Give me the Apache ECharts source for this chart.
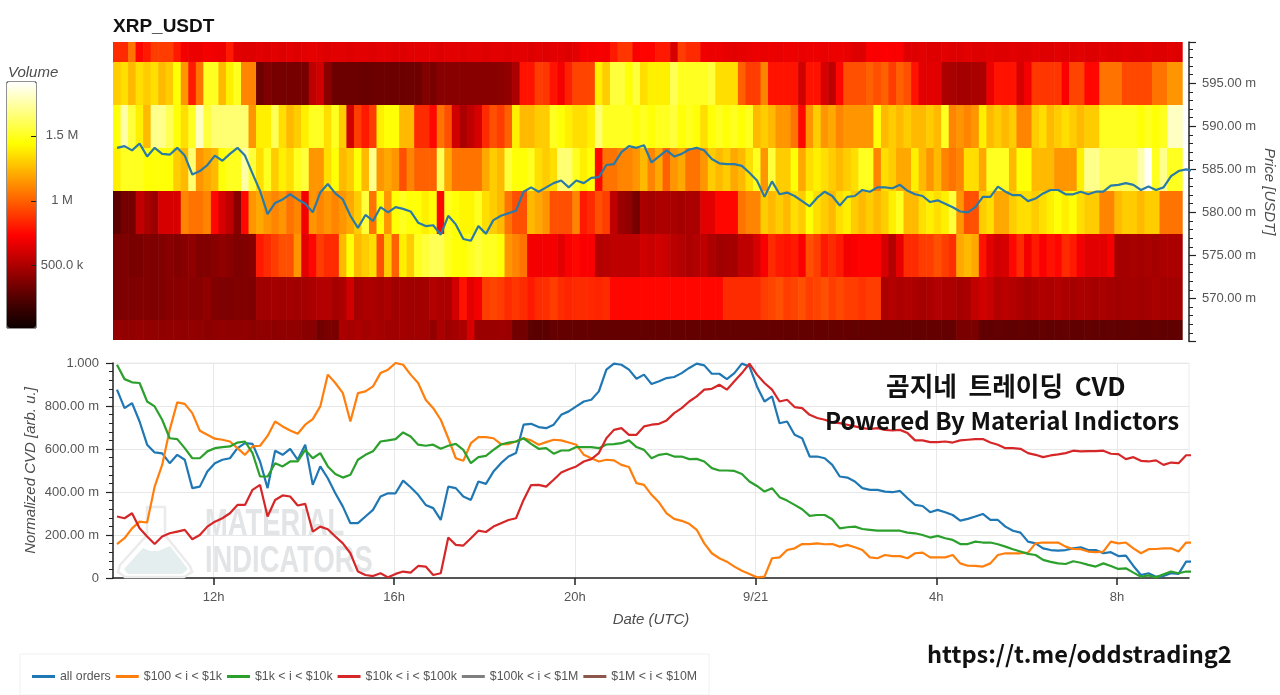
<!DOCTYPE html>
<html>
<head>
<meta charset="utf-8">
<style>html,body{margin:0;padding:0;background:#fff}#c{width:1280px;height:695px}</style>
<script src="https://cdn.jsdelivr.net/npm/echarts@6/dist/echarts.min.js"></script>
</head>
<body>
<div id="c"></div>
<script>
// Time in hours counted from 9/20 00:00; price in milli-USDT; volume in thousands; CVD in milli-units.
const timeTicks = [12, 16, 20, 24, 28, 32];
const timeLabels = ['12h', '16h', '20h', '9/21', '4h', '8h'];
const pricePrefixRows = [600, 595, 590, 585, 580, 575, 570, 565];
const volumeTicks = [500, 1000, 1500];

const vol600 = [850,850,1050,750,800,900,900,900,800,700,
680,680,700,690,680,800,650,640,640,650,
640,650,640,650,640,650,660,650,640,650,
650,640,650,650,640,650,650,640,640,650,
650,650,650,640,650,650,640,650,650,640,
650,650,640,650,650,640,650,640,650,650,
640,650,700,700,710,700,800,880,880,720,
740,740,800,800,620,900,850,850,690,680,
680,660,650,660,670,680,670,680,670,680,
680,670,680,680,670,680,680,670,640,640,
720,720,730,720,720,640,640,650,640,640,
650,640,640,650,640,640,650,640,640,650,
640,640,650,640,640,650,640,640,650,640,
640,650,640,640,650,640,640,650,640,640,
650,640];
const vol595 = [1300,1350,1250,1350,1300,1350,1250,1300,1450,1150,
800,1050,1500,1500,1250,1400,1500,1100,1100,330,
370,350,350,350,350,350,550,600,400,320,
320,320,320,310,320,320,320,320,320,330,
330,380,360,400,400,400,400,400,400,400,
400,410,430,500,780,780,900,880,780,700,
820,920,920,920,1400,1300,1550,1550,1450,1550,
1350,1400,1400,1400,1600,1500,1500,1500,1500,1550,
1350,1350,1350,1000,900,900,1100,780,780,780,
780,600,780,780,620,550,750,950,950,950,
1000,950,1000,900,1000,950,780,650,650,650,
500,490,480,480,490,500,680,780,780,780,
620,700,880,880,880,880,720,920,920,750,
750,1050,1050,1050,930,930,930,930,1050,1050,
1150,1150];
const vol590 = [1450,1750,1550,1400,1250,1700,1700,1600,1450,1350,
1500,1800,1550,1650,1650,1650,1650,1650,1150,1400,
1400,1600,1350,1250,1300,1400,1500,1500,1350,1500,
1300,600,900,800,900,1400,1450,1450,1250,1250,
850,850,750,1050,950,600,500,550,620,850,
950,900,1000,1400,1250,1250,1300,1300,1500,1450,
1400,1350,1350,1400,1650,1500,1500,1500,1500,1450,
1500,1450,1500,1500,1550,1450,1500,1450,1350,1450,
1500,1450,1500,1450,1500,1250,1300,1250,1150,1150,
1050,750,1150,1300,1150,1200,1100,1150,1150,1150,
1150,1450,1250,1300,1250,1300,1250,1250,1300,1250,
1500,1100,1150,1100,1150,1400,1250,1300,1250,1300,
1100,1100,1300,1350,1250,1300,1350,1300,1250,1300,
1300,1500,1500,1500,1500,1500,1450,1500,1450,1500,
1800,1800];
const vol585 = [1400,1500,1500,1500,1450,1450,1450,1450,1300,1250,
1650,1150,1200,1250,1450,1500,1500,1750,1550,1350,
1500,1300,1400,1350,1500,1550,1150,1150,1350,1450,
1250,1300,1450,1250,1700,1150,1200,1150,950,1100,
1000,1000,1000,1600,1200,1050,1050,1050,1050,1200,
1300,1250,1550,1450,1450,1500,1350,1300,1350,1650,
1650,1500,1400,1450,750,1050,1050,1100,1100,1150,
1250,1100,1200,1000,1150,1200,1050,1050,1150,1300,
1250,1300,1200,1250,1350,1500,1150,1550,1300,1300,
1450,1200,1350,1400,1350,1300,1250,1300,1350,1500,
1500,1100,1350,1300,1200,1200,1400,1250,1150,1250,
1100,1050,1100,1350,1350,1200,1500,1500,1500,1250,
1450,1450,1250,1250,1250,1150,1150,1150,1400,1700,
1700,1600,1600,1600,1600,1600,1750,1900,1500,1700,
1500,1500];
const vol580 = [280,350,350,550,500,450,620,620,620,1100,
1050,1050,1100,750,620,550,400,750,1150,1200,
1150,1100,1150,1050,1100,700,1150,1100,1150,1100,
1150,1200,1300,1550,1050,1450,1150,1450,1500,1450,
1450,1400,1450,750,1500,1450,1420,1420,1500,1350,
1300,1250,1050,950,950,1250,1200,1150,950,950,
950,1100,800,850,950,900,550,450,420,350,
500,480,500,500,490,480,500,490,650,650,
750,750,750,1050,1100,1100,1300,1250,1300,1250,
1350,1300,1450,1350,1300,1250,1350,1400,1300,1250,
1300,1250,1300,1400,1500,1250,1250,1350,1400,1350,
1400,1550,1150,950,950,1300,1350,1200,1200,1300,
1350,1350,1300,1350,1400,1450,1400,1450,1350,1300,
1300,1100,1100,1250,1300,1300,1250,1300,1300,1050,
1050,1050];
const vol575 = [360,370,360,360,380,370,380,400,380,400,
420,380,380,400,420,400,370,380,400,800,
850,900,950,950,1150,650,750,900,850,850,
1250,1450,1250,1300,1350,950,1300,1000,1400,1300,
1500,1550,1600,1600,1500,1450,1450,1500,1550,1500,
1500,1450,1150,1100,1050,700,700,700,700,650,
720,750,720,720,520,530,550,550,550,550,
600,580,600,580,540,520,500,520,550,500,
470,480,480,550,550,620,720,850,800,780,
800,720,950,900,800,850,800,700,720,740,
740,740,620,520,660,850,850,900,900,950,
900,860,1200,1250,1200,780,650,600,620,750,
850,700,800,720,780,750,850,800,700,650,
650,650,700,480,480,490,480,490,480,500,
500,500];
const vol570 = [360,370,370,380,380,370,380,400,400,410,
400,400,420,380,370,370,380,380,370,470,
470,480,470,480,470,480,500,520,520,480,
500,600,480,500,500,480,500,470,480,470,
470,480,520,500,500,600,780,650,700,900,
920,900,850,880,850,800,850,860,900,850,
830,850,850,840,830,850,750,750,750,750,
750,750,750,750,750,750,750,750,750,750,
750,850,850,850,850,850,900,920,950,900,
920,950,900,920,950,900,930,900,900,870,
900,900,500,520,500,510,500,480,500,520,
500,500,480,500,560,600,580,520,540,520,
500,480,500,510,500,520,500,480,500,490,
480,490,480,470,480,480,470,480,490,480,
480,480];
const vol565 = [440,430,430,440,430,430,420,430,430,420,
430,420,410,420,430,420,420,430,410,420,
420,410,420,420,420,400,400,340,360,360,
500,480,500,480,490,480,470,470,480,470,
470,470,430,500,460,480,500,620,450,450,
450,460,450,340,340,280,270,270,300,300,
300,295,300,300,300,295,300,300,305,300,
300,295,300,300,295,300,300,295,300,300,
295,300,300,295,300,300,295,300,300,295,
300,300,295,300,300,295,300,300,295,300,
300,295,300,300,295,300,300,295,300,300,
295,300,360,360,360,290,290,295,290,290,
295,290,290,295,290,290,295,290,290,295,
290,290,295,290,290,295,290,290,295,290,
290,290];

const priceLine = [587.5,587.7,587.2,588.0,586.5,587.5,586.8,586.7,587.5,586.6,
584.4,584.8,585.5,586.6,586.0,586.8,587.5,586.6,584.5,582.5,
579.8,581.1,581.5,582.1,581.5,581.0,580.0,582.3,583.3,582.2,
581.5,579.6,578.2,579.7,579.0,580.6,580.0,580.6,580.4,580.1,
578.8,578.4,578.5,577.4,579.6,578.6,576.9,576.7,578.4,577.5,
579.1,579.6,579.9,580.2,582.4,582.9,582.4,582.9,583.4,583.7,
582.9,583.7,583.4,584.0,584.1,585.5,585.6,587.0,587.7,587.5,
587.8,585.8,586.5,587.2,586.5,586.8,587.3,587.5,587.2,586.2,
585.7,585.6,585.6,585.4,584.6,583.7,581.8,583.6,582.1,582.3,
581.9,581.3,580.7,581.7,582.4,581.9,580.8,581.8,581.9,582.6,
582.4,582.9,582.9,582.8,583.2,582.5,582.1,581.9,581.2,581.4,
581.0,580.6,580.1,580.0,580.6,581.8,581.8,583.0,582.4,582.0,
582.0,581.3,581.6,582.2,582.6,582.6,582.1,582.1,582.4,582.1,
582.4,582.4,583.1,583.2,583.4,583.2,582.6,583.0,582.6,582.9,
584.2,584.8,585.0,584.8];

const cvdAllOrders = [876,790,813,728,620,584,580,534,573,550,
418,425,495,534,550,557,604,627,624,542,
418,592,573,601,550,620,433,519,464,394,
332,255,255,286,317,379,394,394,453,422,
387,340,325,270,425,418,379,363,449,438,
495,534,565,581,713,717,702,697,713,759,
775,798,821,829,868,969,997,992,969,927,
946,902,915,930,935,953,977,997,989,950,
950,925,953,997,984,891,821,845,720,728,
666,650,565,565,557,526,472,467,449,418,
410,410,402,399,405,371,340,335,306,317,
306,293,267,275,286,298,270,270,239,220,
211,169,161,138,130,127,130,138,143,130,
130,115,120,102,104,56,14,22,6,9,
22,19,76,76];
const cvd100to1k = [158,185,231,262,258,425,526,689,817,810,
767,685,666,648,643,635,604,573,612,615,
661,728,705,686,671,713,739,798,946,907,
860,728,860,868,891,953,969,1000,992,946,
907,829,790,736,650,557,545,627,655,655,
650,623,623,635,650,640,620,632,643,640,
630,620,573,557,542,550,547,526,516,441,
433,387,351,301,275,266,252,224,161,115,
92,76,53,34,19,3,6,92,96,130,
138,158,158,161,157,158,146,154,143,130,
96,92,107,102,102,92,115,118,96,96,
96,107,68,57,56,53,68,107,115,115,
115,118,161,165,165,165,146,135,134,123,
120,123,169,161,165,138,115,134,135,138,
138,123,165,165];
const cvd1kto10k = [992,925,910,907,821,798,736,650,646,604,
557,557,589,604,609,612,630,635,581,472,
472,534,519,542,542,596,557,581,519,484,
467,480,550,573,589,635,640,646,677,658,
620,615,620,601,615,624,596,534,562,568,
596,621,630,635,650,624,601,604,578,593,
593,609,609,609,604,621,623,627,640,609,
596,557,573,578,565,565,553,554,542,511,
500,500,498,484,449,428,402,418,376,360,
340,320,289,293,293,273,231,236,239,228,
224,220,220,220,220,211,208,200,188,196,
185,177,158,158,169,165,165,157,146,134,
123,112,107,84,75,68,65,78,71,61,
53,68,56,42,45,25,6,12,3,17,
30,22,30,30];
const cvd10kto100k = [286,278,301,231,193,158,193,208,216,224,
180,200,239,262,278,301,340,340,410,433,
286,363,384,379,337,345,216,239,227,193,
161,115,30,14,9,22,3,19,30,25,
56,53,14,22,188,154,151,185,220,214,
239,255,270,278,363,432,433,425,457,491,
506,519,542,553,581,650,689,697,666,666,
705,713,717,733,767,790,821,845,876,880,
899,876,915,953,997,946,907,876,821,829,
795,790,759,744,736,724,720,713,705,697,
693,697,689,686,689,674,640,640,632,632,
635,630,640,643,646,646,630,620,604,604,
601,581,573,562,570,575,581,592,589,590,
590,592,578,576,553,562,545,542,547,526,
537,534,571,571];
const cvd100kto1M = [];
const cvd1Mto10M = [];

const heatStart = 9.775, binHours = 1 / 6, lineStart = 9.8635, priceFloor = 565.17;
const volumeRows = [vol600, vol595, vol590, vol585, vol580, vol575, vol570, vol565];
const heatData = [];
volumeRows.forEach((row, r) => row.forEach((v, c) => heatData.push([heatStart + c * binHours, pricePrefixRows[r], v])));
const toLine = arr => arr.map((v, i) => [lineStart + i * binHours, v]);

const hot = ['#0b0000','#550000','#aa0000','#ff0000','#ff5500','#ffaa00','#ffff00','#ffff80','#ffffff'];
const GREY = '#555';
const FONT = '"Liberation Sans", Arial, sans-serif';
const ITAL = {fontStyle:'italic', fontSize:15, color:'#4d4d4d', fontFamily:FONT};
const xMin = 9.775, xMax = 33.594;

const lineSeries = (name, color, data) => ({
  name, type:'line', xAxisIndex:1, yAxisIndex:1, data:toLine(data), symbol:'none', showSymbol:false,
  lineStyle:{color, width:2.2}, itemStyle:{color}, z:3, clip:true
});

const option = {
  animation:false,
  backgroundColor:'#fff',
  textStyle:{fontFamily:FONT},
  title:[
    {text:'XRP_USDT', left:113, top:17, padding:0, textStyle:{fontSize:19, fontWeight:'bold', color:'#111', fontFamily:FONT}},
    {text:'Volume', left:8, top:65, padding:0, textStyle:{fontSize:15, fontWeight:'normal', fontStyle:'italic', color:'#4d4d4d', fontFamily:FONT}}
  ],
  grid:[
    {left:113, top:42, width:1076, height:299.4, outerBoundsMode:'none'},
    {left:113, top:363, width:1076, height:215, show:true, borderColor:'#ececec', borderWidth:1, outerBoundsMode:'none'},
    {left:7, top:82, width:29, height:246, show:true, borderColor:'#222', borderWidth:1, outerBoundsMode:'none'}
  ],
  xAxis:[
    {type:'value', gridIndex:0, min:xMin, max:xMax, show:false},
    {type:'value', gridIndex:1, min:xMin, max:xMax,
      name:'Date (UTC)', nameLocation:'middle', nameGap:34, nameTextStyle:ITAL,
      axisLine:{onZero:false, lineStyle:{color:'#222', width:1.5}},
      axisTick:{customValues:timeTicks, length:7, lineStyle:{color:'#222', width:1.5}},
      minorTick:{show:false},
      axisLabel:{customValues:timeTicks, margin:13, fontSize:13, color:GREY, fontFamily:FONT,
        formatter:v => timeLabels[timeTicks.indexOf(v)] || ''},
      splitLine:{show:true, lineStyle:{color:'#e8e8e8', width:1}}},
    {type:'value', gridIndex:2, min:0, max:1, show:false}
  ],
  yAxis:[
    {type:'value', gridIndex:0, position:'right', min:565, max:599.8, interval:5,
      name:'Price [USDT]', nameLocation:'middle', nameGap:73, nameRotate:-90, nameMoveOverlap:false, nameTextStyle:ITAL,
      axisLine:{show:true, onZero:false, lineStyle:{color:'#222', width:1.5}},
      axisTick:{show:true, length:7, lineStyle:{color:'#222', width:1.2}},
      minorTick:{show:true, splitNumber:5, length:4, lineStyle:{color:'#222', width:1}},
      axisLabel:{margin:13, fontSize:13, color:GREY, fontFamily:FONT, showMinLabel:false, showMaxLabel:false,
        formatter:v => v.toFixed(2) + ' m'},
      splitLine:{show:false}},
    {type:'value', gridIndex:1, min:0, max:1000, interval:200,
      name:'Normalized CVD [arb. u.]', nameLocation:'middle', nameGap:75, nameRotate:90, nameMoveOverlap:false, nameTextStyle:ITAL,
      axisLine:{show:true, onZero:false, lineStyle:{color:'#222', width:1.5}},
      axisTick:{show:true, length:7, lineStyle:{color:'#222', width:1.2}},
      minorTick:{show:true, splitNumber:5, length:4, lineStyle:{color:'#222', width:1}},
      axisLabel:{margin:14, fontSize:13, color:GREY, fontFamily:FONT,
        formatter:v => v === 0 ? '0' : v === 1000 ? '1.000' : v.toFixed(2) + ' m'},
      splitLine:{show:true, lineStyle:{color:'#e8e8e8', width:1}}},
    {type:'value', gridIndex:2, position:'right', min:20, max:1915, z:10,
      axisLine:{show:false, onZero:false},
      axisTick:{show:true, inside:true, customValues:volumeTicks, length:5, lineStyle:{color:'#222', width:1}},
      axisLabel:{customValues:volumeTicks, align:'center', margin:26, fontSize:13, color:GREY, fontFamily:FONT,
        formatter:v => v >= 1000 ? (v / 1000) + ' M' : v.toFixed(1) + ' k'},
      splitLine:{show:false}}
  ],
  visualMap:[{
    type:'continuous', seriesIndex:0, dimension:2, min:20, max:1915, calculable:false, show:true,
    left:7, top:82, itemWidth:29, itemHeight:246, padding:0, showLabel:false, text:null, hoverLink:false,
    inRange:{color:hot}, z:1
  }],
  legend:{
    left:20, top:654, orient:'horizontal', padding:[16.5,12,12.5,12], icon:'rect', itemWidth:23, itemHeight:3, itemGap:5,
    borderColor:'#f0f0f0', borderWidth:1, backgroundColor:'#fff',
    textStyle:{fontSize:12.35, color:GREY, fontFamily:FONT},
    data:['all orders','$100 < i < $1k','$1k < i < $10k','$10k < i < $100k','$100k < i < $1M','$1M < i < $10M']
  },
  graphic:{elements:[
    {type:'polygon', silent:true, z:1, shape:{points:[[147,507],[165,507],[165,535],[190,566],[192,572],[184,577],[125,577],[118,572],[120,565],[147,535]]},
      style:{fill:'none', stroke:'#ebebeb', lineWidth:2.5}},
    {type:'polygon', silent:true, z:1, shape:{points:[[124,569],[143,548],[150,551],[158,551],[170,546],[188,569],[182,574],[128,574]]},
      style:{fill:'#e5eeee'}},
    {type:'text', silent:true, z:1, x:205, y:507, scaleX:0.76, style:{text:'MATERIAL', font:'bold 36px "Liberation Sans"', fill:'#e2e4e6', verticalAlign:'top'}},
    {type:'text', silent:true, z:1, x:205, y:544, scaleX:0.76, style:{text:'INDICATORS', font:'bold 36px "Liberation Sans"', fill:'#e2e4e6', verticalAlign:'top'}},
    {type:'text', silent:true, z:50, left:886, top:373, style:{text:'곰지네  트레이딩  CVD', font:'bold 25.7px "Noto Sans CJK KR"', fill:'#111'}},
    {type:'text', silent:true, z:50, left:825, top:409, style:{text:'Powered By Material Indictors', font:'bold 24.1px "Noto Sans CJK KR"', fill:'#111'}},
    {type:'text', silent:true, z:50, left:927, top:642, style:{text:'https://t.me/oddstrading2', font:'bold 23.6px "Noto Sans CJK KR"', fill:'#111'}}
  ]},
  series:[
    {type:'custom', name:'Volume', xAxisIndex:0, yAxisIndex:0, data:heatData, clip:true, silent:true, z:1,
      encode:{x:0, y:1},
      renderItem:(params, api) => {
        const t = api.value(0), p = api.value(1);
        const a = api.coord([t, p + 2.5]), b = api.coord([t + binHours, Math.max(p - 2.5, priceFloor)]);
        const top = Math.round(a[1]), bottom = Math.round(b[1]);
        return {type:'rect', shape:{x:a[0], y:top, width:b[0]-a[0]+0.6, height:bottom-top}, style:{fill:api.visual('color')}};
      }},
    {type:'line', name:'Price', xAxisIndex:0, yAxisIndex:0, data:toLine(priceLine), symbol:'none',
      lineStyle:{color:'#2a7aa8', width:2.2}, z:3, clip:true},
    lineSeries('all orders', '#1f77b4', cvdAllOrders),
    lineSeries('$100 < i < $1k', '#ff7f0e', cvd100to1k),
    lineSeries('$1k < i < $10k', '#2ca02c', cvd1kto10k),
    lineSeries('$10k < i < $100k', '#d62728', cvd10kto100k),
    lineSeries('$100k < i < $1M', '#7f7f7f', cvd100kto1M),
    lineSeries('$1M < i < $10M', '#8c564b', cvd1Mto10M),
    {type:'line', xAxisIndex:2, yAxisIndex:2, data:[], silent:true}
  ]
};
const chart = echarts.init(document.getElementById('c'), null, {renderer:'canvas'});
chart.setOption(option);
</script>
</body>
</html>
